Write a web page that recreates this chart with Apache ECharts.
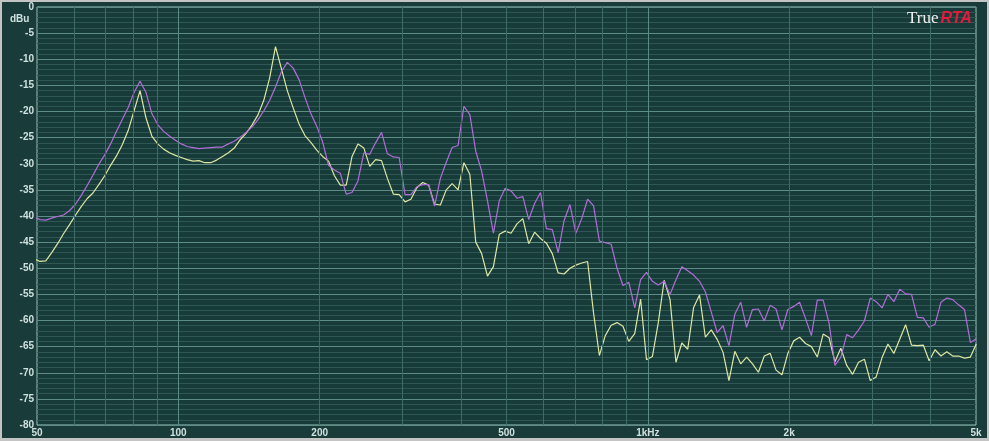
<!DOCTYPE html>
<html><head><meta charset="utf-8">
<script src="https://cdn.jsdelivr.net/npm/echarts@6/dist/echarts.min.js"></script>
<style>
html,body{margin:0;padding:0;background:#c4c4c4;}
#frame{position:absolute;left:0;top:0;width:989px;height:441px;background:#c4c4c4;overflow:hidden;}
#chart{position:absolute;left:2px;top:2px;width:985px;height:436px;}
</style></head><body>
<div id="frame"><div id="chart"></div></div>
<script>
// 1/24-octave analysis bins (Hz)
const freqs = [49.28,
50.73,52.21,53.74,55.32,56.94,58.61,60.33,62.09,63.91,65.79,67.71,69.70,71.74,73.84,76.01,78.23,80.52,82.88,85.31,87.81,90.39,93.03,95.76,98.57,
101.46,104.43,107.49,110.64,113.88,117.22,120.65,124.19,127.83,131.57,135.43,139.39,143.48,147.68,152.01,156.46,161.05,165.77,170.63,175.63,180.77,186.07,191.52,197.13,
202.9,208.9,215.0,221.3,227.8,234.4,241.3,248.4,255.7,263.1,270.9,278.8,287.0,295.4,304.0,312.9,322.1,331.5,341.3,351.3,361.5,372.1,383.0,394.3,
405.8,417.7,430.0,442.6,455.5,468.9,482.6,496.7,511.3,526.3,541.7,557.6,573.9,590.7,608.0,625.9,644.2,663.1,682.5,702.5,723.1,744.3,766.1,788.5,
811.6,835.4,859.9,885.1,911.0,937.7,965.2,993.5,1022.6,1052.6,1083.4,1115.2,1147.8,1181.5,1216.1,1251.7,1288.4,1326.1,1365.0,1405.0,1446.2,1488.6,1532.2,1577.0,
1623.3,1670.8,1719.8,1770.2,1822.1,1875.5,1930.4,1987.0,2045.2,2105.1,2166.8,2230.3,2295.7,2362.9,2432.2,2503.4,2576.8,2652.3,2730.0,2810.0,2892.4,2977.1,3064.3,3154.1,
3246.5,3341.7,3439.6,3540.4,3644.1,3750.9,3860.8,3973.9,4090.4,4210.2,4333.5,4460.5,4591.2,4725.7,4864.2,5006.7];

// purple trace (dBu)
const traceA = [
-40.2,-40.7,-40.8,-40.4,-40.1,-39.8,-39.0,-37.8,-36.1,-34.2,
-32.2,-30.1,-28.3,-26.2,-23.8,-21.5,-19.2,-16.3,-14.2,-16.3,
-20.4,-22.5,-23.8,-24.7,-25.5,-26.2,-26.7,-26.9,-27.1,-27.0,
-26.9,-26.8,-26.8,-26.2,-25.7,-24.9,-24.0,-23.0,-21.6,-19.9,
-17.9,-15.3,-12.4,-10.6,-11.7,-13.9,-17.3,-20.4,-22.8,-25.8,
-30.3,-31.2,-31.8,-35.8,-35.5,-33.3,-27.9,-28.2,-26.0,-24.0,
-28.1,-28.7,-28.8,-35.9,-35.9,-34.4,-34.0,-34.0,-38.1,-32.8,
-29.7,-26.9,-26.5,-19.0,-20.6,-27.6,-31.4,-37.1,-43.3,-37.1,
-34.7,-35.2,-36.6,-36.3,-40.7,-37.6,-35.5,-42.4,-42.6,-47.0,
-40.9,-37.8,-43.3,-40.5,-36.8,-38.0,-44.8,-45.1,-45.4,-50.0,
-53.3,-52.7,-57.6,-52.2,-50.8,-52.5,-53.2,-52.5,-55.0,-52.2,
-49.7,-50.5,-51.3,-52.5,-54.5,-58.4,-62.3,-61.0,-64.8,-58.8,
-56.5,-61.3,-57.9,-57.8,-60.1,-57.1,-57.8,-61.8,-57.9,-57.3,
-56.5,-59.6,-62.9,-56.1,-56.1,-60.5,-68.6,-67.0,-62.7,-63.3,
-61.8,-60.1,-55.7,-56.4,-57.6,-55.0,-56.4,-54.0,-54.9,-55.0,
-59.4,-59.5,-61.3,-60.7,-56.5,-55.7,-56.0,-57.0,-57.9,-64.2,
-63.5];

// yellow trace (dBu)
const traceB = [
-48.2,-48.7,-48.6,-47.0,-45.3,-43.4,-41.7,-39.9,-38.2,-36.7,
-35.6,-34.0,-32.3,-30.3,-28.5,-26.3,-23.6,-19.8,-16.0,-21.2,
-24.7,-26.2,-27.2,-27.9,-28.4,-28.8,-29.2,-29.5,-29.4,-29.8,
-29.8,-29.3,-28.6,-27.9,-27.0,-25.4,-24.2,-22.6,-20.7,-17.9,
-13.6,-7.6,-11.8,-16.0,-19.3,-22.4,-24.6,-25.9,-27.4,-28.6,
-29.5,-32.3,-34.1,-34.1,-28.6,-26.2,-27.0,-30.5,-29.2,-29.4,
-32.8,-35.8,-35.9,-37.3,-36.8,-34.6,-33.6,-34.1,-37.7,-37.9,
-35.0,-33.8,-35.0,-29.8,-32.0,-45.0,-47.2,-51.5,-49.7,-43.5,
-42.9,-43.3,-41.5,-40.5,-45.3,-43.1,-44.3,-45.2,-47.2,-50.9,
-51.1,-50.0,-49.4,-49.0,-48.7,-58.5,-66.7,-62.9,-60.9,-60.4,
-61.1,-64.0,-62.5,-55.9,-67.5,-66.9,-60.4,-52.3,-56.0,-68.0,
-64.3,-65.5,-57.5,-55.1,-63.2,-61.8,-63.6,-66.1,-71.5,-65.9,
-68.3,-67.0,-68.3,-69.9,-66.8,-66.3,-69.5,-70.4,-66.3,-63.9,
-63.2,-64.4,-65.0,-67.0,-62.6,-63.3,-67.9,-65.3,-68.6,-70.3,
-68.0,-67.4,-71.5,-70.8,-67.1,-64.5,-66.3,-63.6,-60.8,-64.7,
-64.8,-64.7,-67.7,-65.6,-66.8,-66.0,-66.8,-66.8,-67.2,-67.0,
-64.5];

const gridFreqs = [60,70,80,90,100,200,300,400,500,600,700,800,900,1000,2000,3000,4000];
const majorGridFreqs = [100,1000];
const tickFreqs = [50,100,200,500,1000,2000,5000];
const tickLabels = ['50','100','200','500','1kHz','2k','5k'];

const labelColor = '#cfe0de';
const chart = echarts.init(document.getElementById('chart'));
const lg = f => Math.log10(f);

chart.setOption({
  animation: false,
  backgroundColor: '#193c3a',
  title: [
    {text: 'dBu', left: 3, top: 7,
     textStyle: {color: labelColor, fontSize: 10, fontWeight: 'bold', fontFamily: 'Liberation Sans'}},
    {text: '{a|True}{b|RTA}', left: 900, top: 3,
     textStyle: {fontWeight: 'normal', rich: {
       a: {fontFamily: 'Liberation Serif', fontWeight: 'normal', fontSize: 17, color: '#f0f0f0'},
       b: {fontFamily: 'Liberation Sans', fontStyle: 'italic', fontWeight: 'bold', fontSize: 16, color: '#e8193c', padding: [0,0,0,2]}
     }}}
  ],
  grid: {left: 35, top: 2, width: 939, height: 423, show: true,
         backgroundColor: '#173b39', borderColor: '#9cc2bb', borderWidth: 1},
  xAxis: [
    {type: 'log', logBase: 10, min: 50, max: 5000, show: false},
    {type: 'value', min: lg(50), max: lg(5000), position: 'bottom',
     axisLine: {show: false}, axisTick: {show: false}, splitLine: {show: false},
     axisLabel: {
       customValues: tickFreqs.map(lg), margin: 3,
       color: labelColor, fontSize: 10, fontWeight: 'bold', fontFamily: 'Liberation Sans',
       formatter: function (v) {
         let best = 0, bd = 1e9;
         tickFreqs.forEach((f, i) => { const d = Math.abs(lg(f) - v); if (d < bd) { bd = d; best = i; } });
         return tickLabels[best];
       }
     }}
  ],
  yAxis: {
    type: 'value', min: -80, max: 0, interval: 5,
    axisLine: {show: false}, axisTick: {show: false},
    axisLabel: {color: labelColor, fontSize: 10, fontWeight: 'bold', fontFamily: 'Liberation Sans', margin: 3},
    splitLine: {lineStyle: {color: '#5d8b85', width: 1}},
    minorTick: {show: false, splitNumber: 5},
    minorSplitLine: {show: true, lineStyle: {color: '#2e5753', width: 1}}
  },
  series: [
    {type: 'line', name: 'grid', xAxisIndex: 0, data: [], z: 1, silent: true,
     markLine: {silent: true, symbol: 'none', animation: false, label: {show: false},
       data: gridFreqs.map(f => ({xAxis: f, lineStyle: {
         color: majorGridFreqs.indexOf(f) >= 0 ? '#5a8a84' : '#3e6b66', width: 1, type: 'solid'}}))}},
    {type: 'line', name: 'B', xAxisIndex: 0, z: 3, showSymbol: false, clip: true,
     lineStyle: {color: '#dde6a2', width: 1.2},
     data: freqs.map((f, i) => [f, traceB[i]])},
    {type: 'line', name: 'A', xAxisIndex: 0, z: 4, showSymbol: false, clip: true,
     lineStyle: {color: '#b06ed8', width: 1.2},
     data: freqs.map((f, i) => [f, traceA[i]])}
  ]
});
</script>
</body></html>
